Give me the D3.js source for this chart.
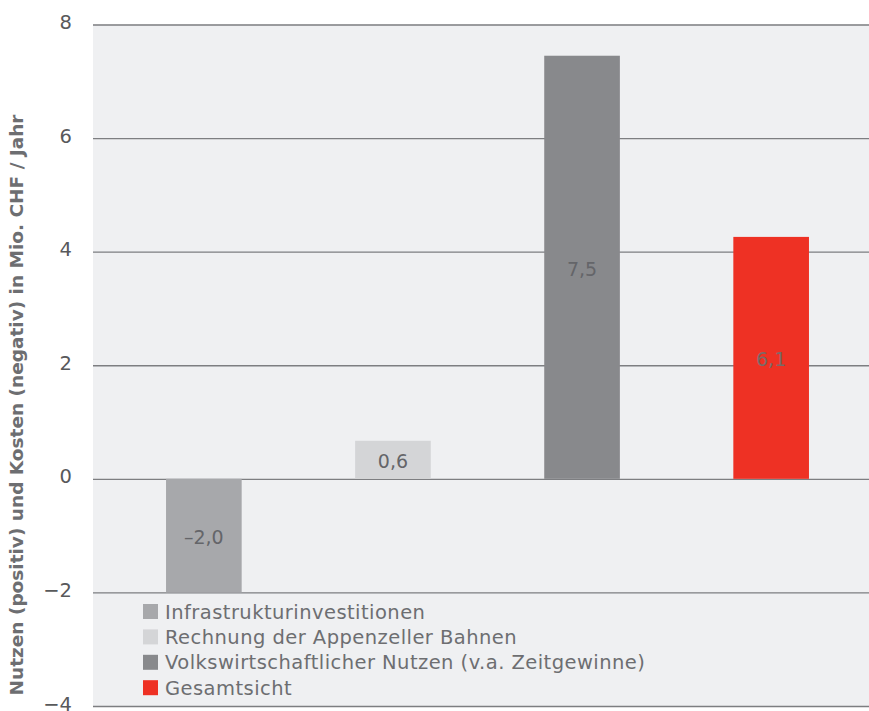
<!DOCTYPE html>
<html lang="de">
<head>
<meta charset="utf-8">
<title>Nutzen und Kosten</title>
<script src="https://d3js.org/d3.v7.min.js"></script>
<style>
  body { margin: 0; background: #fff; }
  text { font-family: "DejaVu Sans", sans-serif; fill: #6d6e71; }
</style>
</head>
<body>
<script>
// Data
var categories = ["Infrastrukturinvestitionen", "Rechnung der Appenzeller Bahnen",
  "Volkswirtschaftlicher Nutzen (v.a. Zeitgewinne)", "Gesamtsicht"];
var values = [-2.0, 0.67, 7.45, 4.26];
var valueLabels = ["\u20132,0", "0,6", "7,5", "6,1"];
var colors = ["#a7a8ab", "#d4d5d7", "#88898c", "#ee3124"];
var yTicks = [-4, -2, 0, 2, 4, 6, 8];

var w = 869, h = 711;
var plotLeft = 93, plotRight = 869, plotTop = 24.5, plotBottom = 706;

var svg = d3.select("body").append("svg")
  .attr("width", w)
  .attr("height", h);

var yScale = d3.scaleLinear().domain([-4, 8]).range([plotBottom, plotTop]);
var xScale = d3.scaleBand()
  .domain(d3.range(categories.length))
  .range([166 - 56.7, 809 + 56.7])
  .paddingInner(0.6)
  .paddingOuter(0.3);

// plot background
svg.append("rect")
  .attr("x", plotLeft).attr("y", plotTop)
  .attr("width", plotRight - plotLeft).attr("height", plotBottom - plotTop)
  .attr("fill", "#eff0f2");

// gridlines
var grid = d3.axisLeft(yScale).tickValues(yTicks).tickFormat("").tickSize(-(plotRight - plotLeft));
svg.append("g")
  .attr("transform", "translate(" + plotLeft + ",0)")
  .call(grid)
  .call(function(g) {
    g.select(".domain").remove();
    g.selectAll("line").attr("stroke", "#7d7e81").attr("stroke-width", 1.3);
  });

// y axis labels
var yAxis = d3.axisLeft(yScale).tickValues(yTicks).tickSize(0)
  .tickFormat(function(d) { return d < 0 ? "\u2212" + Math.abs(d) : d; });
svg.append("g")
  .attr("transform", "translate(72,-3)")
  .call(yAxis)
  .call(function(g) {
    g.select(".domain").remove();
    g.selectAll("text")
      .attr("x", 0)
      .attr("dy", "0.36em")
      .style("font-size", "19.5px")
      .style("fill", "#58595b")
      .style("font-family", "'DejaVu Sans', sans-serif");
  });

// bars
svg.selectAll("rect.bar")
  .data(values)
  .enter()
  .append("rect")
  .attr("class", "bar")
  .attr("x", function(d, i) { return xScale(i); })
  .attr("width", xScale.bandwidth())
  .attr("y", function(d) { return yScale(Math.max(0, d)); })
  .attr("height", function(d) { return Math.abs(yScale(d) - yScale(0)); })
  .attr("fill", function(d, i) { return colors[i]; });

// value labels
svg.selectAll("text.val")
  .data(values)
  .enter()
  .append("text")
  .attr("class", "val")
  .attr("x", function(d, i) { return xScale(i) + xScale.bandwidth() / 2; })
  .attr("y", function(d, i) {
    if (i == 3) return yScale(2.1);
    return (yScale(d) + yScale(0)) / 2 + 1.5;
  })
  .attr("dy", "0.36em")
  .attr("text-anchor", "middle")
  .style("font-size", "19px")
  .style("fill", function(d, i) { return i == 3 ? "#7a6a68" : "#646569"; })
  .text(function(d, i) { return valueLabels[i]; });

// legend
var legend = svg.append("g").attr("transform", "translate(143,611.5)");
var rows = legend.selectAll("g")
  .data(categories)
  .enter()
  .append("g")
  .attr("transform", function(d, i) { return "translate(0," + (i * 25.4) + ")"; });
rows.append("rect")
  .attr("x", 0).attr("y", -7.5)
  .attr("width", 15).attr("height", 15)
  .attr("fill", function(d, i) { return colors[i]; });
rows.append("text")
  .attr("x", 22)
  .attr("dy", "0.36em")
  .style("font-size", "19.5px")
  .style("letter-spacing", "0.45px")
  .text(function(d) { return d; });

// y axis title
svg.append("text")
  .attr("transform", "translate(23,405) rotate(-90)")
  .attr("text-anchor", "middle")
  .style("font-size", "18.5px")
  .style("font-weight", "bold")
  .style("fill", "#6d6e71")
  .text("Nutzen (positiv) und Kosten (negativ) in Mio. CHF / Jahr");
</script>
</body>
</html>
